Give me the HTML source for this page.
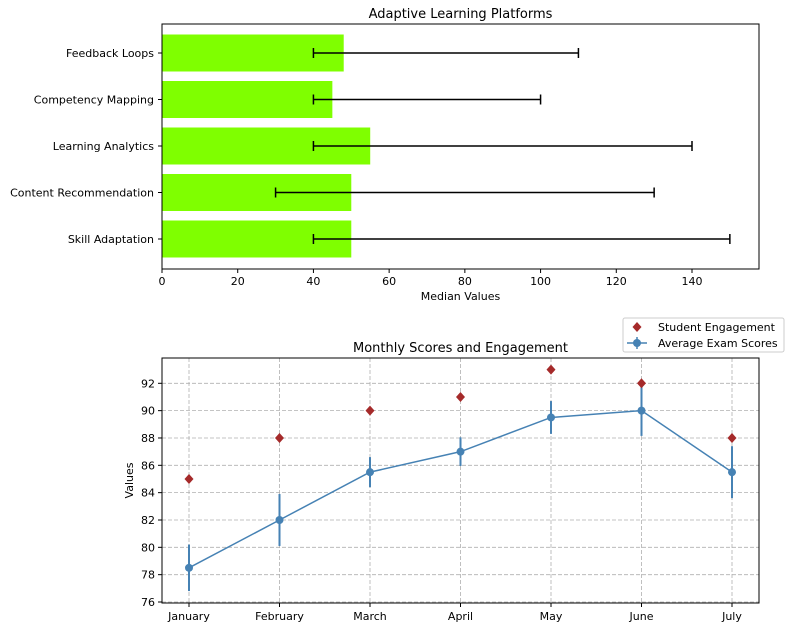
<!DOCTYPE html>
<html><head><meta charset="utf-8"><style>
body{margin:0;background:#fff;font-family:"Liberation Sans","DejaVu Sans",sans-serif;}
svg text{font-family:"DejaVu Sans","Liberation Sans",sans-serif;}
</style></head><body>
<svg id="c" width="791" height="629" xmlns="http://www.w3.org/2000/svg"></svg>
<script>
const barCats=["Skill Adaptation","Content Recommendation","Learning Analytics","Competency Mapping","Feedback Loops"];
const barVals=[50,50,55,45,48];
const errLo=[40,30,40,40,40];
const errHi=[150,130,140,100,110];
const xTicks=[0,20,40,60,80,100,120,140];
const months=["January","February","March","April","May","June","July"];
const engagement=[85,88,90,91,93,92,88];
const examScores=[78.5,82,85.5,87,89.5,90,85.5];
const examErr=[1.7,1.9,1.1,1.05,1.2,1.85,1.9];
const yTicks=[76,78,80,82,84,86,88,90,92];

const svg=document.getElementById('c');
const NS="http://www.w3.org/2000/svg";
function el(tag,attrs,parent){const e=document.createElementNS(NS,tag);for(const k in attrs)e.setAttribute(k,attrs[k]);(parent||svg).appendChild(e);return e;}
function txt(s,attrs,parent){const t=el('text',attrs,parent);t.textContent=s;return t;}

// ---- top chart
const L1=162,R1=759,T1=24,B1=269;
const xs1=v=>L1+v*(692-162)/140;
const bandH=(B1-T1)/5.2;
const yc1=i=>239-i*46.5;
const g1=el('g',{});


barCats.forEach((c,i)=>{
  const r=el('rect',{x:xs1(0),y:yc1(i)-18.5,width:xs1(barVals[i])-xs1(0),height:37,fill:'#7fff00'},g1);
  
  
});
barCats.forEach((c,i)=>{
  const g=el('g',{stroke:'#000','stroke-width':1.5},g1);
  
  
  const y=yc1(i);
  el('line',{x1:xs1(errLo[i]),x2:xs1(errHi[i]),y1:y,y2:y},g);
  el('line',{x1:xs1(errLo[i]),x2:xs1(errLo[i]),y1:y-5,y2:y+5},g);
  el('line',{x1:xs1(errHi[i]),x2:xs1(errHi[i]),y1:y-5,y2:y+5},g);
  const t=txt(c,{x:L1-8,y:y+4,'font-size':11,'text-anchor':'end',fill:'#000'},g1);
  
  
  el('line',{x1:L1-4,x2:L1,y1:y,y2:y,stroke:'#000'},g1);
});
el('rect',{x:L1,y:T1,width:R1-L1,height:B1-T1,fill:'none',stroke:'#000','stroke-width':1});
xTicks.forEach(v=>{
  el('line',{x1:xs1(v),x2:xs1(v),y1:B1,y2:B1+4,stroke:'#000'});
  const t=txt(v,{x:xs1(v),y:B1+16,'font-size':11,'text-anchor':'middle'});
  
  
});
let t=txt('Median Values',{x:(L1+R1)/2,y:300,'font-size':11,'text-anchor':'middle'});

t=txt('Adaptive Learning Platforms',{x:(L1+R1)/2,y:18,'font-size':13,'text-anchor':'middle'});


// ---- bottom chart
const L2=162,R2=759,T2=358,B2=603;
const xs2=i=>189+i*(732-189)/6;
const ys2=v=>602-(v-76)*(602-383.3)/16;
yTicks.forEach(v=>{
  el('line',{x1:L2,x2:R2,y1:ys2(v),y2:ys2(v),stroke:'#b0b0b0','stroke-dasharray':'4,2','stroke-width':0.8});
  el('line',{x1:L2-4,x2:L2,y1:ys2(v),y2:ys2(v),stroke:'#000'});
  const t=txt(v,{x:L2-7,y:ys2(v)+4,'font-size':11,'text-anchor':'end'});
  
});
months.forEach((m,i)=>{
  el('line',{x1:xs2(i),x2:xs2(i),y1:T2,y2:B2,stroke:'#b0b0b0','stroke-dasharray':'4,2','stroke-width':0.8});
  el('line',{x1:xs2(i),x2:xs2(i),y1:B2,y2:B2+4,stroke:'#000'});
  const t=txt(m,{x:xs2(i),y:B2+17,'font-size':11,'text-anchor':'middle'});
  
});
el('rect',{x:L2,y:T2,width:R2-L2,height:B2-T2,fill:'none',stroke:'#000','stroke-width':1});
const line=el('polyline',{points:examScores.map((v,i)=>xs2(i)+','+ys2(v)).join(' '),fill:'none',stroke:'#4682b4','stroke-width':1.5});

examScores.forEach((v,i)=>{
  const e=el('line',{x1:xs2(i),x2:xs2(i),y1:ys2(v-examErr[i]),y2:ys2(v+examErr[i]),stroke:'#4682b4','stroke-width':2});
  
  const c=el('circle',{cx:xs2(i),cy:ys2(v),r:4,fill:'#4682b4'});
  
});
engagement.forEach((v,i)=>{
  const x=xs2(i),y=ys2(v);
  const d=el('polygon',{points:`${x},${y-5} ${x+4.5},${y} ${x},${y+5} ${x-4.5},${y}`,fill:'#a52a2a'});
  
});
t=txt('Values',{x:0,y:0,'font-size':11,'text-anchor':'middle',transform:`translate(133,${(T2+B2)/2}) rotate(-90)`});

t=txt('Monthly Scores and Engagement',{x:(L2+R2)/2,y:352,'font-size':13,'text-anchor':'middle'});

// legend
const lg=el('g',{});

el('rect',{x:623,y:318,width:161,height:34,rx:2,fill:'#fff',stroke:'#ccc'},lg);
el('polygon',{points:'637,322 641.5,327 637,332 632.5,327',fill:'#a52a2a'},lg);
t=txt('Student Engagement',{x:658,y:331,'font-size':11},lg);

el('line',{x1:627,x2:647,y1:343,y2:343,stroke:'#4682b4','stroke-width':1.5},lg);
el('line',{x1:637,x2:637,y1:337,y2:349,stroke:'#4682b4','stroke-width':1.5},lg);
el('circle',{cx:637,cy:343,r:4,fill:'#4682b4'},lg);
t=txt('Average Exam Scores',{x:658,y:347,'font-size':11},lg);

</script>
</body></html>
